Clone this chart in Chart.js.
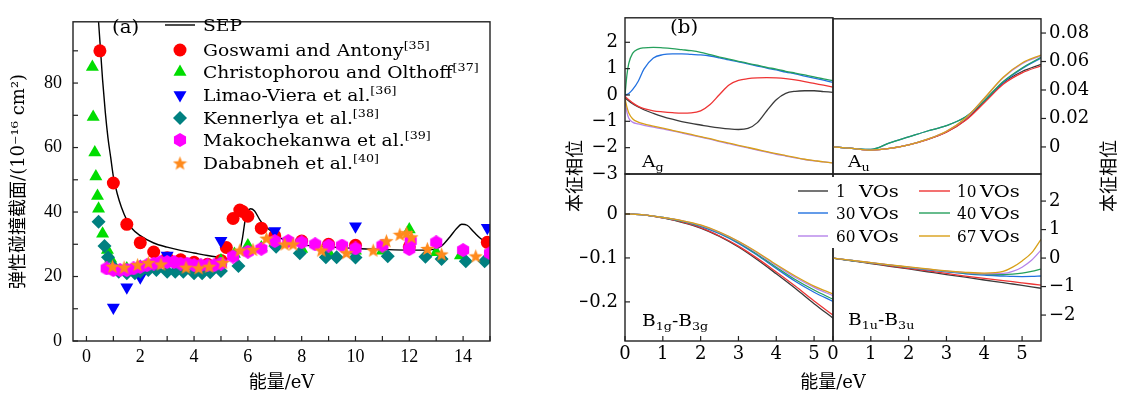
<!DOCTYPE html>
<html><head><meta charset="utf-8">
<script src="https://cdn.jsdelivr.net/npm/chart.js@4.4.1/dist/chart.umd.min.js"></script>
<style>
html,body{margin:0;padding:0;background:#fff;}
#wrap{position:relative;width:1124px;height:396px;overflow:hidden;background:#fff}
canvas{position:absolute;left:0;top:0;width:1124px;height:396px}
</style></head><body><div id="wrap">
<canvas id="cA" width="1124" height="396"></canvas>
<canvas id="cB" width="1124" height="396"></canvas>
<canvas id="cC" width="1124" height="396"></canvas>
<canvas id="cD" width="1124" height="396"></canvas>
<canvas id="cE" width="1124" height="396"></canvas>
</div>
<script>
// ---------------- panel (a) data ----------------
const aXTicks = [0, 2, 4, 6, 8, 10, 12, 14];
const aXMinor = [1, 3, 5, 7, 9, 11, 13, 15];
const aYTicks = [0, 20, 40, 60, 80];
const aYMinor = [10, 30, 50, 70, 90];
const aNames = ['SEP', 'Goswami and Antony', 'Christophorou and Olthoff', 'Limao-Viera et al.', 'Kennerlya et al.', 'Makochekanwa et al.', 'Dababneh et al.'];
const aRefs = ['', '[35]', '[37]', '[36]', '[38]', '[39]', '[40]'];

const sepE = [0.45,0.5,0.6,0.7,0.8,0.9,1.0,1.15,1.3,1.5,1.7,2.0,2.5,3.0,3.5,4.0,4.5,5.0,5.3,5.55,5.7,5.8,5.9,6.0,6.1,6.25,6.45,6.65,6.85,7.2,7.6,8,9,10,11,12,12.6,12.9,13.2,13.5,13.75,13.95,14.15,14.4,14.65,15];
const sepS = [99,93,81,71,63,57,51,45.5,41.5,37.5,34.8,32.7,30.4,29.1,28.1,27.3,26.5,25.8,25.5,26,28,32,37.5,40.3,41,40.3,37.5,35.5,34.2,32,30.5,29.8,29.2,28.7,28.4,28.2,28.2,28.4,29.5,32.2,34.8,36.2,35.9,33.8,31.8,30];

const goswami = [[0.5,90],[1.0,49],[1.5,36.2],[2.0,30.5],[2.5,27.6],[3.0,25.8],[3.5,25.2],[4.0,24.4],[4.5,23.8],[5.0,25],[5.2,29],[5.45,38],[5.7,40.6],[5.8,40.2],[6.0,38.7],[6.5,35],[7.0,32.6],[8.0,31],[9.0,30],[10.0,29.7],[12.0,29.2],[14.9,30.6]];
const christophorou = [[0.22,85],[0.25,69.5],[0.31,58.5],[0.35,51],[0.41,45],[0.45,41],[0.6,33.3],[0.78,28.2],[0.9,25.5],[1.0,23.5],[1.5,22.5],[2.0,23],[2.5,23.5],[3.0,24],[3.5,23.5],[4.0,23],[4.5,23],[5.0,25],[5.5,27],[6.0,29.6],[6.5,29],[7.0,30.5],[8.0,28.5],[9.0,27.5],[10.0,28],[11.0,28],[12.0,34.6],[13.0,27.5],[13.9,26.5],[15,26]];
const limao = [[1.0,10.4],[1.5,16.7],[2.0,19.8],[3.0,26.5],[5.0,31.1],[7.0,34.1],[10.0,35.6],[14.9,35.1]];
const kennerlya = [[0.45,37],[0.67,29.5],[0.8,26],[1.0,23],[1.2,21.5],[1.5,21],[1.8,21],[2.0,21.5],[2.3,22],[2.6,22],[3.0,21.5],[3.3,21.5],[3.6,21.5],[4.0,21],[4.3,21],[4.6,21.3],[5.0,21.7],[5.65,23.3],[7.05,29.2],[7.93,27.2],[8.9,26],[9.3,26],[10,25.9],[11.2,26.3],[12.6,26.1],[13.2,25.4],[14.1,24.7],[14.8,24.7]];
const makochekanwa = [[0.75,22.5],[1.0,22],[1.25,22],[1.5,22],[1.75,22.5],[2.0,23],[2.25,23.5],[2.5,24],[2.75,24.5],[3.0,24.5],[3.25,24.5],[3.5,24],[3.75,24],[4.0,23.5],[4.25,23.5],[4.5,23.5],[4.75,23.5],[5.0,24],[5.45,26.2],[6.0,27.7],[6.5,28.6],[7.0,31],[7.5,31],[8.0,30.6],[8.5,30],[9.0,29.6],[9.5,29.6],[10,28.7],[11,29.6],[12,28.5],[12.05,31],[13,30.6],[14,28.2],[15,27.2]];
const dababneh = [[0.97,23.2],[1.4,22.9],[1.9,23.7],[2.3,24.4],[2.77,23.9],[3.7,22.9],[4.17,22.7],[4.56,23.2],[5.07,24.4],[5.7,28.2],[6.19,28.4],[6.69,31.9],[7.37,30.1],[7.68,30.1],[8.73,28.2],[9.66,27.4],[10.66,28.2],[11.15,31.1],[11.65,33.1],[11.9,33.6],[12.08,32.3],[12.67,28.7],[13.2,27],[14.47,26.4]];

// ---------------- panel (b) data ----------------
const bXTicks = [0, 1, 2, 3, 4, 5];
const agTicks = [2, 1, 0, -1, -2, -3];
const auTicks = [0, 0.02, 0.04, 0.06, 0.08];
const b1gTicks = [0, -0.1, -0.2];
const b1uTicks = [2, 1, 0, -1, -2];
const vNames = ['1 VOs', '10 VOs', '30 VOs', '40 VOs', '60 VOs', '67 VOs'];
const vColors = ['#3a3a3a', '#ee3434', '#2271e0', '#26a05c', '#b583ea', '#d8a018'];

const agE  = [0,0.05,0.1,0.2,0.35,0.5,0.75,1,1.25,1.5,1.75,2,2.25,2.5,2.75,3,3.25,3.5,3.75,4,4.25,4.5,4.75,5,5.25,5.5];
const ag1  = [-0.1,-0.17,-0.23,-0.33,-0.45,-0.56,-0.7,-0.82,-0.92,-1.01,-1.08,-1.14,-1.2,-1.25,-1.29,-1.31,-1.27,-1.05,-0.6,-0.18,0.06,0.14,0.16,0.16,0.13,0.1];
const ag10 = [-0.05,-0.12,-0.18,-0.3,-0.43,-0.52,-0.6,-0.64,-0.67,-0.69,-0.68,-0.6,-0.36,0.02,0.38,0.55,0.62,0.65,0.66,0.65,0.62,0.57,0.51,0.44,0.37,0.3];
const ag30 = [0,0.02,0.06,0.2,0.52,0.98,1.4,1.53,1.56,1.56,1.54,1.52,1.48,1.41,1.33,1.26,1.18,1.1,1.02,0.95,0.87,0.8,0.72,0.64,0.56,0.48];
const ag40 = [0,0.75,1.2,1.58,1.74,1.79,1.81,1.79,1.76,1.72,1.68,1.62,1.53,1.44,1.36,1.28,1.2,1.13,1.05,0.98,0.9,0.83,0.76,0.69,0.61,0.54];
const ag60 = [-0.18,-0.65,-0.88,-1.03,-1.1,-1.15,-1.22,-1.29,-1.36,-1.44,-1.52,-1.6,-1.68,-1.77,-1.85,-1.93,-2.01,-2.09,-2.17,-2.25,-2.32,-2.39,-2.45,-2.5,-2.54,-2.58];
const ag67 = [-0.15,-0.45,-0.68,-0.9,-1.03,-1.1,-1.18,-1.26,-1.34,-1.42,-1.5,-1.58,-1.66,-1.75,-1.83,-1.91,-1.99,-2.07,-2.15,-2.23,-2.3,-2.37,-2.44,-2.49,-2.54,-2.58];

const auE  = [0,0.5,1,1.5,2,2.5,3,3.5,4,4.5,5,5.5];
const au1  = [0,-0.001,-0.0022,-0.001,0.0015,0.0053,0.0105,0.019,0.032,0.045,0.053,0.058];
const au10 = [0,-0.001,-0.0022,-0.001,0.0015,0.0052,0.0103,0.0185,0.031,0.044,0.052,0.057];
const au30 = [0,-0.001,-0.0018,0.0028,0.007,0.0112,0.015,0.021,0.0325,0.0455,0.055,0.0625];
const au40 = [0,-0.001,-0.0018,0.0028,0.007,0.0112,0.015,0.021,0.0325,0.046,0.0555,0.063];
const au60 = [0,-0.001,-0.0022,-0.001,0.0015,0.0055,0.011,0.02,0.034,0.0485,0.0585,0.064];
const au67 = [0,-0.001,-0.0022,-0.001,0.0015,0.0055,0.011,0.0202,0.0342,0.049,0.059,0.0645];

const b1gE  = [0,0.5,1,1.5,2,2.5,3,3.5,4,4.5,5,5.5];
const b1g1  = [0,-0.002,-0.009,-0.019,-0.032,-0.051,-0.075,-0.104,-0.136,-0.169,-0.204,-0.237];
const b1g10 = [0,-0.002,-0.009,-0.018,-0.031,-0.05,-0.073,-0.101,-0.132,-0.164,-0.198,-0.23];
const b1g30 = [0,-0.002,-0.008,-0.016,-0.028,-0.045,-0.067,-0.094,-0.124,-0.153,-0.178,-0.199];
const b1g40 = [0,-0.002,-0.008,-0.016,-0.027,-0.043,-0.065,-0.092,-0.121,-0.149,-0.173,-0.194];
const b1g60 = [0,-0.002,-0.008,-0.015,-0.026,-0.042,-0.063,-0.089,-0.117,-0.144,-0.167,-0.186];
const b1g67 = [0,-0.002,-0.008,-0.015,-0.025,-0.041,-0.062,-0.087,-0.115,-0.141,-0.164,-0.182];

const b1uE  = [0,0.5,1,1.5,2,2.5,3,3.5,4,4.5,4.75,5,5.25,5.5];
const b1u1  = [0,-0.1,-0.19,-0.29,-0.38,-0.48,-0.58,-0.67,-0.77,-0.86,-0.91,-0.96,-1.01,-1.06];
const b1u10 = [0,-0.09,-0.18,-0.27,-0.36,-0.45,-0.54,-0.63,-0.71,-0.79,-0.83,-0.87,-0.91,-0.95];
const b1u30 = [0,-0.085,-0.17,-0.25,-0.33,-0.41,-0.48,-0.55,-0.6,-0.63,-0.645,-0.65,-0.645,-0.63];
const b1u40 = [0,-0.085,-0.17,-0.25,-0.33,-0.4,-0.47,-0.53,-0.57,-0.58,-0.565,-0.53,-0.47,-0.39];
const b1u60 = [0,-0.08,-0.16,-0.24,-0.32,-0.39,-0.46,-0.51,-0.55,-0.54,-0.47,-0.32,-0.08,0.28];
const b1u67 = [0,-0.08,-0.16,-0.24,-0.31,-0.38,-0.45,-0.5,-0.53,-0.47,-0.32,-0.1,0.18,0.66];

// ---------------- styling helpers ----------------
const SERIF = "'DejaVu Serif', serif";
const NUMF = "'Liberation Serif', serif";
const CJK = "'DejaVu Serif', 'Noto Sans CJK SC', sans-serif";
const INK = '#222';
Chart.defaults.color = '#000';
Chart.defaults.font.family = SERIF;

const fmt = v => (v < 0 ? '\u2212' : '') + String(Math.abs(v));
const pts = arr => arr.map(p => ({x: p[0], y: p[1]}));

function polyMarker(kind, color, d) {
  const c = document.createElement('canvas'); c.width = c.height = d;
  const g = c.getContext('2d'); g.fillStyle = color; g.beginPath();
  const r = d / 2;
  if (kind === 'hex') {
    for (let i = 0; i < 6; i++) { const a = -Math.PI / 2 + i * Math.PI / 3; g.lineTo(r + r * Math.cos(a), r + r * Math.sin(a)); }
  } else {
    for (let i = 0; i < 10; i++) { const a = -Math.PI / 2 + i * Math.PI / 5; const rr = i % 2 ? r * 0.42 : r; g.lineTo(r + rr * Math.cos(a), r + rr * Math.sin(a) + r * 0.1); }
  }
  g.closePath(); g.fill(); return c;
}
const hexM = polyMarker('hex', '#ff00ff', 14);
const starM = polyMarker('star', '#ff8a1c', 15);

function drawRich(ctx, o) {
  const fam = o.family || SERIF, size = o.size || 17, sx = o.sx || 1.1;
  const parts = o.segs.map(([t, m]) => { const fs = m === 'n' ? size : size * 0.68; ctx.font = fs + 'px ' + fam; return {t, m, fs, w: ctx.measureText(t).width * sx}; });
  const total = parts.reduce((s, p) => s + p.w, 0);
  ctx.save(); ctx.translate(o.x, o.y); if (o.rot) ctx.rotate(o.rot);
  let cx = o.align === 'center' ? -total / 2 : 0;
  ctx.fillStyle = '#000'; ctx.textBaseline = o.vb || 'alphabetic'; ctx.textAlign = 'left';
  parts.forEach(p => {
    ctx.font = p.fs + 'px ' + fam;
    const dy = p.m === 'sub' ? size * 0.26 : p.m === 'sup' ? -size * 0.42 : 0;
    ctx.save(); ctx.translate(cx, dy); ctx.scale(sx, 1); ctx.fillText(p.t, 0, 0); ctx.restore();
    cx += p.w;
  });
  ctx.restore();
}

function drawMarker(ctx, ds, x, y) {
  const st = ds.pointStyle, r = ds.pointRadius;
  if (st instanceof HTMLCanvasElement) { ctx.drawImage(st, x - st.width / 2, y - st.height / 2); return; }
  ctx.fillStyle = ds.backgroundColor; ctx.beginPath();
  if (st === 'circle') ctx.arc(x, y, r, 0, 2 * Math.PI);
  else if (st === 'triangle') {
    const rot = (ds.pointRotation || 0) * Math.PI / 180;
    for (let k = 0; k < 3; k++) { const a = rot + k * 2 * Math.PI / 3; ctx.lineTo(x + Math.sin(a) * r, y - Math.cos(a) * r); }
  } else if (st === 'rectRot') { ctx.moveTo(x, y - r); ctx.lineTo(x + r, y); ctx.lineTo(x, y + r); ctx.lineTo(x - r, y); }
  ctx.closePath(); ctx.fill();
}

function drawLegendA(ctx, chart) {
  const ys = [25, 50, 72, 95, 118, 140, 163];
  chart.data.datasets.forEach((ds, i) => {
    const y = ys[i];
    if (ds.showLine) { ctx.strokeStyle = ds.borderColor; ctx.lineWidth = ds.borderWidth; ctx.beginPath(); ctx.moveTo(165, y); ctx.lineTo(195, y); ctx.stroke(); }
    else drawMarker(ctx, ds, 180, y);
    const segs = [[ds.label, 'n']]; if (aRefs[i]) segs.push([aRefs[i], 'sup']);
    drawRich(ctx, {segs, x: 203, y: y + 6, size: 17});
  });
}

function drawLegendB(ctx) {
  ctx.fillStyle = '#fff'; ctx.fillRect(795, 177, 238, 71);
  const rows = [191, 213, 236], cols = [[798, 828, 836], [919, 950, 957]];
  vNames.forEach((nm, i) => {
    const y = rows[Math.floor(i / 2)], [x0, x1, tx] = cols[i % 2];
    ctx.strokeStyle = vColors[i]; ctx.lineWidth = 1.4; ctx.beginPath(); ctx.moveTo(x0, y); ctx.lineTo(x1, y); ctx.stroke();
    const [num, unit] = nm.split(' ');
    drawRich(ctx, {segs: [[num, 'n']], x: tx, y: y + 6, size: 17, sx: 0.9});
    drawRich(ctx, {segs: [[unit, 'n']], x: tx + 23, y: y + 6, size: 17, sx: 1.15});
  });
}

const decoCfg = {
  cA: { ticks: [{scale: 'x', side: 'bottom', values: aXTicks.concat(aXMinor), len: 5}, {scale: 'y', side: 'left', values: aYTicks.concat(aYMinor), len: 5}],
        texts: [{segs: [['(a)', 'n']], x: 112, y: 33, size: 18}], legendA: true },
  cB: { ticks: [{scale: 'y', side: 'left', values: agTicks, len: 5}],
        texts: [{segs: [['(b)', 'n']], x: 670, y: 33, size: 18}, {segs: [['A', 'n'], ['g', 'sub']], x: 642, y: 167, size: 17}] },
  cC: { ticks: [{scale: 'y', side: 'right', values: auTicks, len: 5}],
        texts: [{segs: [['A', 'n'], ['u', 'sub']], x: 848, y: 167, size: 17}] },
  cD: { ticks: [{scale: 'x', side: 'bottom', values: bXTicks, len: 5}, {scale: 'y', side: 'left', values: b1gTicks, len: 5}],
        texts: [{segs: [['B', 'n'], ['1g', 'sub'], ['-B', 'n'], ['3g', 'sub']], x: 642, y: 326, size: 17}] },
  cE: { ticks: [{scale: 'x', side: 'bottom', values: bXTicks, len: 5}, {scale: 'y', side: 'right', values: b1uTicks, len: 5}],
        legendB: true,
        texts: [{segs: [['B', 'n'], ['1u', 'sub'], ['-B', 'n'], ['3u', 'sub']], x: 848, y: 325, size: 17},
                {segs: [['本征相位', 'n']], x: 576, y: 176, size: 18, family: CJK, sx: 1, align: 'center', vb: 'middle', rot: -Math.PI / 2},
                {segs: [['本征相位', 'n']], x: 1110, y: 176, size: 18, family: CJK, sx: 1, align: 'center', vb: 'middle', rot: -Math.PI / 2},
                {segs: [['能量/eV', 'n']], x: 833, y: 383, size: 18, family: CJK, sx: 1, align: 'center', vb: 'middle'}] }
};

const deco = {
  id: 'deco',
  afterDraw(chart) {
    const cfg = decoCfg[chart.canvas.id]; if (!cfg) return;
    const ctx = chart.ctx, a = chart.chartArea;
    ctx.save();
    ctx.strokeStyle = INK; ctx.lineWidth = 1.2;
    (cfg.ticks || []).forEach(t => {
      const s = chart.scales[t.scale];
      t.values.forEach(v => {
        const p = s.getPixelForValue(v);
        ctx.beginPath();
        if (t.side === 'bottom') { ctx.moveTo(p, a.bottom); ctx.lineTo(p, a.bottom - t.len); }
        else if (t.side === 'left') { ctx.moveTo(a.left, p); ctx.lineTo(a.left + t.len, p); }
        else { ctx.moveTo(a.right, p); ctx.lineTo(a.right + t.len, p); }
        ctx.stroke();
      });
    });
    ctx.lineWidth = 1.4; ctx.strokeStyle = INK;
    ctx.strokeRect(a.left, a.top, a.right - a.left, a.bottom - a.top);
    if (cfg.legendA) drawLegendA(ctx, chart);
    if (cfg.legendB) drawLegendB(ctx);
    (cfg.texts || []).forEach(tx => drawRich(ctx, tx));
    ctx.restore();
  }
};

// ---------------- chart (a) ----------------
function mk(label, data, style, color, r, order, extra) {
  return Object.assign({label, data: pts(data), pointStyle: style, pointRadius: r, pointHoverRadius: r,
    backgroundColor: color, pointBackgroundColor: color, pointBorderWidth: 0, borderWidth: 0, order}, extra || {});
}
new Chart(document.getElementById('cA'), {
  type: 'scatter',
  data: { datasets: [
    {label: aNames[0], data: sepE.map((x, i) => ({x, y: sepS[i]})), showLine: true, borderColor: '#000', borderWidth: 1.4,
     pointRadius: 0, pointHoverRadius: 0, cubicInterpolationMode: 'monotone', order: 10},
    mk(aNames[1], goswami, 'circle', '#ff0000', 6.5, 9),
    mk(aNames[2], christophorou, 'triangle', '#00dd00', 7.5, 8),
    mk(aNames[3], limao, 'triangle', '#0000ff', 7.5, 7, {pointRotation: 180}),
    mk(aNames[4], kennerlya, 'rectRot', '#008080', 7, 6),
    mk(aNames[5], makochekanwa, hexM, '#ff00ff', 7, 5),
    mk(aNames[6], dababneh, starM, '#ff8a1c', 7, 4)
  ]},
  options: {
    responsive: false, animation: false, devicePixelRatio: 1, events: [],
    layout: {padding: {left: 0, top: 8, right: 1124 - 490, bottom: 0}},
    plugins: {legend: {display: false}, tooltip: {enabled: false}},
    scales: {
      x: {type: 'linear', min: -0.5, max: 15, grid: {display: false, drawTicks: false}, border: {display: false},
          ticks: {font: {family: NUMF, size: 18}, color: '#000', padding: 5, autoSkip: false, maxRotation: 0, callback: fmt},
          afterBuildTicks: s => { s.ticks = aXTicks.map(v => ({value: v})); },
          afterFit: s => { s.height = 55; },
          title: {display: true, text: '能量/eV', font: {family: CJK, size: 18}, color: '#000', padding: {top: 0, bottom: 2}}},
      y: {type: 'linear', min: 0, max: 99, grid: {display: false, drawTicks: false}, border: {display: false},
          ticks: {font: {family: NUMF, size: 18}, color: '#000', padding: 11, autoSkip: false, callback: fmt},
          afterBuildTicks: s => { s.ticks = aYTicks.map(v => ({value: v})); },
          afterFit: s => { s.width = 73; },
          title: {display: true, text: '弹性碰撞截面/(10⁻¹⁶ cm²)', font: {family: CJK, size: 18}, color: '#000', padding: {top: 9, bottom: 0}}}
    }
  },
  plugins: [deco]
});

// ---------------- chart (b) sub-panels ----------------
function subChart(id, xs, ys, yr, yTicks, side, showX, area) {
  const left = side === 'left';
  new Chart(document.getElementById(id), {
    type: 'scatter',
    data: { datasets: ys.map((arr, i) => ({
      label: vNames[i], data: xs.map((x, j) => ({x, y: arr[j]})),
      showLine: true, borderColor: vColors[i], borderWidth: 1.3, pointRadius: 0, pointHoverRadius: 0,
      cubicInterpolationMode: 'monotone', order: 10 - i })) },
    options: {
      responsive: false, animation: false, devicePixelRatio: 1, events: [],
      layout: {padding: {left: left ? area.l - 45 : area.l, right: left ? 1124 - area.r : 1124 - area.r - 60,
                         top: area.t, bottom: showX ? 396 - area.b - 55 : 396 - area.b}},
      plugins: {legend: {display: false}, tooltip: {enabled: false}},
      scales: {
        x: {type: 'linear', min: 0, max: 5.5, display: showX, grid: {display: false, drawTicks: false}, border: {display: false},
            ticks: {font: {family: SERIF, size: 18}, color: '#000', padding: 3, autoSkip: false, maxRotation: 0, callback: fmt},
            afterBuildTicks: s => { s.ticks = bXTicks.map(v => ({value: v})); },
            afterFit: s => { s.height = showX ? 55 : 0; }},
        y: {type: 'linear', position: side, min: yr[0], max: yr[1], grid: {display: false, drawTicks: false}, border: {display: false},
            ticks: {font: {family: SERIF, size: 18}, color: '#000', padding: left ? 7 : 8, autoSkip: false, callback: fmt},
            afterBuildTicks: s => { s.ticks = yTicks.map(v => ({value: v})); },
            afterFit: s => { s.width = left ? 45 : 60; }}
      }
    },
    plugins: [deco]
  });
}
subChart('cB', agE, [ag1, ag10, ag30, ag40, ag60, ag67], [-3, 2.93], agTicks, 'left', false, {l: 625, r: 833, t: 8, b: 174});
subChart('cC', auE, [au1, au10, au30, au40, au60, au67], [-0.019, 0.09], auTicks, 'right', false, {l: 833, r: 1041, t: 8, b: 174});
subChart('cD', b1gE, [b1g1, b1g10, b1g30, b1g40, b1g60, b1g67], [-0.289, 0.091], b1gTicks, 'left', true, {l: 625, r: 833, t: 174, b: 341});
subChart('cE', b1uE, [b1u1, b1u10, b1u30, b1u40, b1u60, b1u67], [-2.91, 2.95], b1uTicks, 'right', true, {l: 833, r: 1041, t: 174, b: 341});
</script></body></html>
